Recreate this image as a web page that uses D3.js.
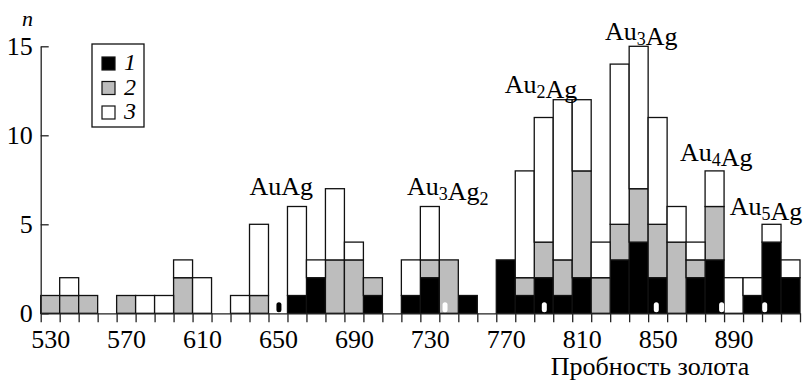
<!DOCTYPE html>
<html>
<head>
<meta charset="utf-8">
<script src="https://cdn.jsdelivr.net/npm/d3@7"></script>
<style>
  body { margin: 0; background: #fff; }
  #fig text { font-family: "Liberation Serif", "Times New Roman", serif !important; }
</style>
</head>
<body>
<svg id="fig" width="804" height="383"></svg>
<script>
// bin centres (gold fineness, step 10)
const bins = [530, 540, 550, 560, 570, 580, 590, 600, 610, 620,
  630, 640, 650, 660, 670, 680, 690, 700, 710, 720,
  730, 740, 750, 760, 770, 780, 790, 800, 810, 820,
  830, 840, 850, 860, 870, 880, 890, 900, 910, 920];

// series 1 (black), 2 (grey), 3 (white) counts, stacked
const s1 = [0, 0, 0, 0, 0, 0, 0, 0, 0, 0,
  0, 0, 0, 1, 2, 0, 0, 1, 0, 1,
  2, 0, 1, 0, 3, 1, 2, 1, 2, 0,
  3, 4, 2, 0, 2, 3, 0, 1, 4, 2];
const s2 = [1, 1, 1, 0, 1, 0, 0, 2, 0, 0,
  0, 1, 0, 0, 0, 3, 3, 1, 0, 0,
  1, 3, 0, 0, 0, 1, 2, 2, 6, 2,
  2, 3, 3, 4, 1, 3, 0, 0, 0, 0];
const s3 = [0, 1, 0, 0, 0, 1, 1, 1, 2, 0,
  1, 4, 0, 5, 1, 4, 1, 0, 0, 2,
  3, 0, 0, 0, 0, 6, 7, 9, 4, 2,
  9, 8, 6, 2, 1, 2, 2, 1, 1, 1];

const xLabels = [530, 570, 610, 650, 690, 730, 770, 810, 850, 890];
const yTicks = [0, 5, 10, 15];
const keys = ['1', '2', '3'];
const fills = ['#000', '#bdbdbd', '#fff'];

// composition labels: [text, subscript] pieces, anchored in data units
const notes = [
  { parts: [['Au'], ['Ag']], x: 635, y: 6.65 },
  { parts: [['Au', '3'], ['Ag', '2']], x: 718, y: 6.65 },
  { parts: [['Au', '2'], ['Ag']], x: 769.5, y: 12.38 },
  { parts: [['Au', '3'], ['Ag']], x: 822.3, y: 15.35 },
  { parts: [['Au', '4'], ['Ag']], x: 861.8, y: 8.56 },
  { parts: [['Au', '5'], ['Ag']], x: 888, y: 5.52 },
];

// small blots on the baseline in the scanned figure
const specks = [
  { x: 650.5, c: '#000' }, { x: 738, c: '#fff' }, { x: 790.3, c: '#fff' },
  { x: 849.3, c: '#fff' }, { x: 883.7, c: '#fff' }, { x: 906.4, c: '#fff' },
];

const FONT = 'Liberation Serif';

const svg = d3.select('#fig');

const x = d3.scaleLinear().domain([525, 925]).range([40.7, 800]);
const y = d3.scaleLinear().domain([0, 15]).range([313.3, 46.3]);

const table = bins.map((b, i) => ({ bin: b, '1': s1[i], '2': s2[i], '3': s3[i] }));
const stacked = d3.stack().keys(keys)(table);

// bars
svg.append('g')
  .selectAll('g')
  .data(stacked)
  .join('g')
  .attr('fill', (d, i) => fills[i])
  .selectAll('rect')
  .data((d) => d.filter((p) => p[1] > p[0]))
  .join('rect')
  .attr('x', (d) => x(d.data.bin - 5))
  .attr('width', (d) => x(d.data.bin + 5) - x(d.data.bin - 5))
  .attr('y', (d) => y(d[1]))
  .attr('height', (d) => y(d[0]) - y(d[1]))
  .attr('stroke', '#111')
  .attr('stroke-width', 1.3);

// specks
svg.append('g')
  .selectAll('rect')
  .data(specks)
  .join('rect')
  .attr('x', (d) => x(d.x) - 2.5)
  .attr('y', y(0) - 11)
  .attr('width', 5)
  .attr('height', 10)
  .attr('rx', 2.5)
  .attr('fill', (d) => d.c);

// x axis: ticks at every bin edge, labels at selected bin centres
const edges = bins.map((b) => b - 5).concat([bins[bins.length - 1] + 5]);
const gx = svg.append('g')
  .attr('transform', `translate(0,${y(0)})`)
  .call(d3.axisBottom(x).tickValues(edges).tickFormat('').tickSize(9).tickSizeOuter(0));
gx.selectAll('path, line').attr('stroke', '#222').attr('stroke-width', 1.3);

const gxl = svg.append('g')
  .attr('transform', `translate(0,${y(0)})`)
  .call(d3.axisBottom(x).tickValues(xLabels).tickSize(0).tickPadding(16));
gxl.select('.domain').remove();
gxl.selectAll('text').attr('font-size', 26).attr('fill', '#000');

// y axis, ticks pointing inward
const gy = svg.append('g')
  .attr('transform', `translate(${x(525)},0)`)
  .call(d3.axisLeft(y).tickValues(yTicks).tickSize(-8).tickSizeOuter(0).tickPadding(8));
gy.selectAll('path, line').attr('stroke', '#222').attr('stroke-width', 1.3);
gy.selectAll('text').attr('font-size', 26).attr('fill', '#000');

// axis titles
svg.append('text')
  .attr('x', 22)
  .attr('y', 26)
  .attr('font-size', 22)
  .attr('font-style', 'italic')
  .text('n');

svg.append('text')
  .attr('x', 650)
  .attr('y', 375)
  .attr('text-anchor', 'middle')
  .attr('font-size', 26)
  .text('Пробность золота');

// legend
const legend = svg.append('g').attr('transform', 'translate(92,44)');
legend.append('rect')
  .attr('width', 52)
  .attr('height', 83)
  .attr('fill', '#fff')
  .attr('stroke', '#111')
  .attr('stroke-width', 1.3);
const item = legend.selectAll('g.item')
  .data(keys)
  .join('g')
  .attr('class', 'item')
  .attr('transform', (d, i) => `translate(10,${13 + i * 24.5})`);
item.append('rect')
  .attr('width', 13)
  .attr('height', 13)
  .attr('fill', (d, i) => fills[i])
  .attr('stroke', '#111')
  .attr('stroke-width', 1.2);
item.append('text')
  .attr('x', 22)
  .attr('y', 13)
  .attr('font-size', 24)
  .attr('font-style', 'italic')
  .text((d) => d);

// composition labels
const note = svg.append('g')
  .selectAll('text')
  .data(notes)
  .join('text')
  .attr('x', (d) => x(d.x))
  .attr('y', (d) => y(d.y))
  .attr('font-size', 26);
note.each(function (d) {
  const t = d3.select(this);
  d.parts.forEach((p) => {
    t.append('tspan').text(p[0]);
    if (p[1]) {
      t.append('tspan').attr('font-size', 18).attr('dy', 5).text(p[1]);
      t.append('tspan').attr('dy', -5).text('');
    }
  });
});

// every text in serif, set both ways
svg.selectAll('text')
  .attr('font-family', FONT)
  .style('font-family', FONT, 'important');
</script>
</body>
</html>
